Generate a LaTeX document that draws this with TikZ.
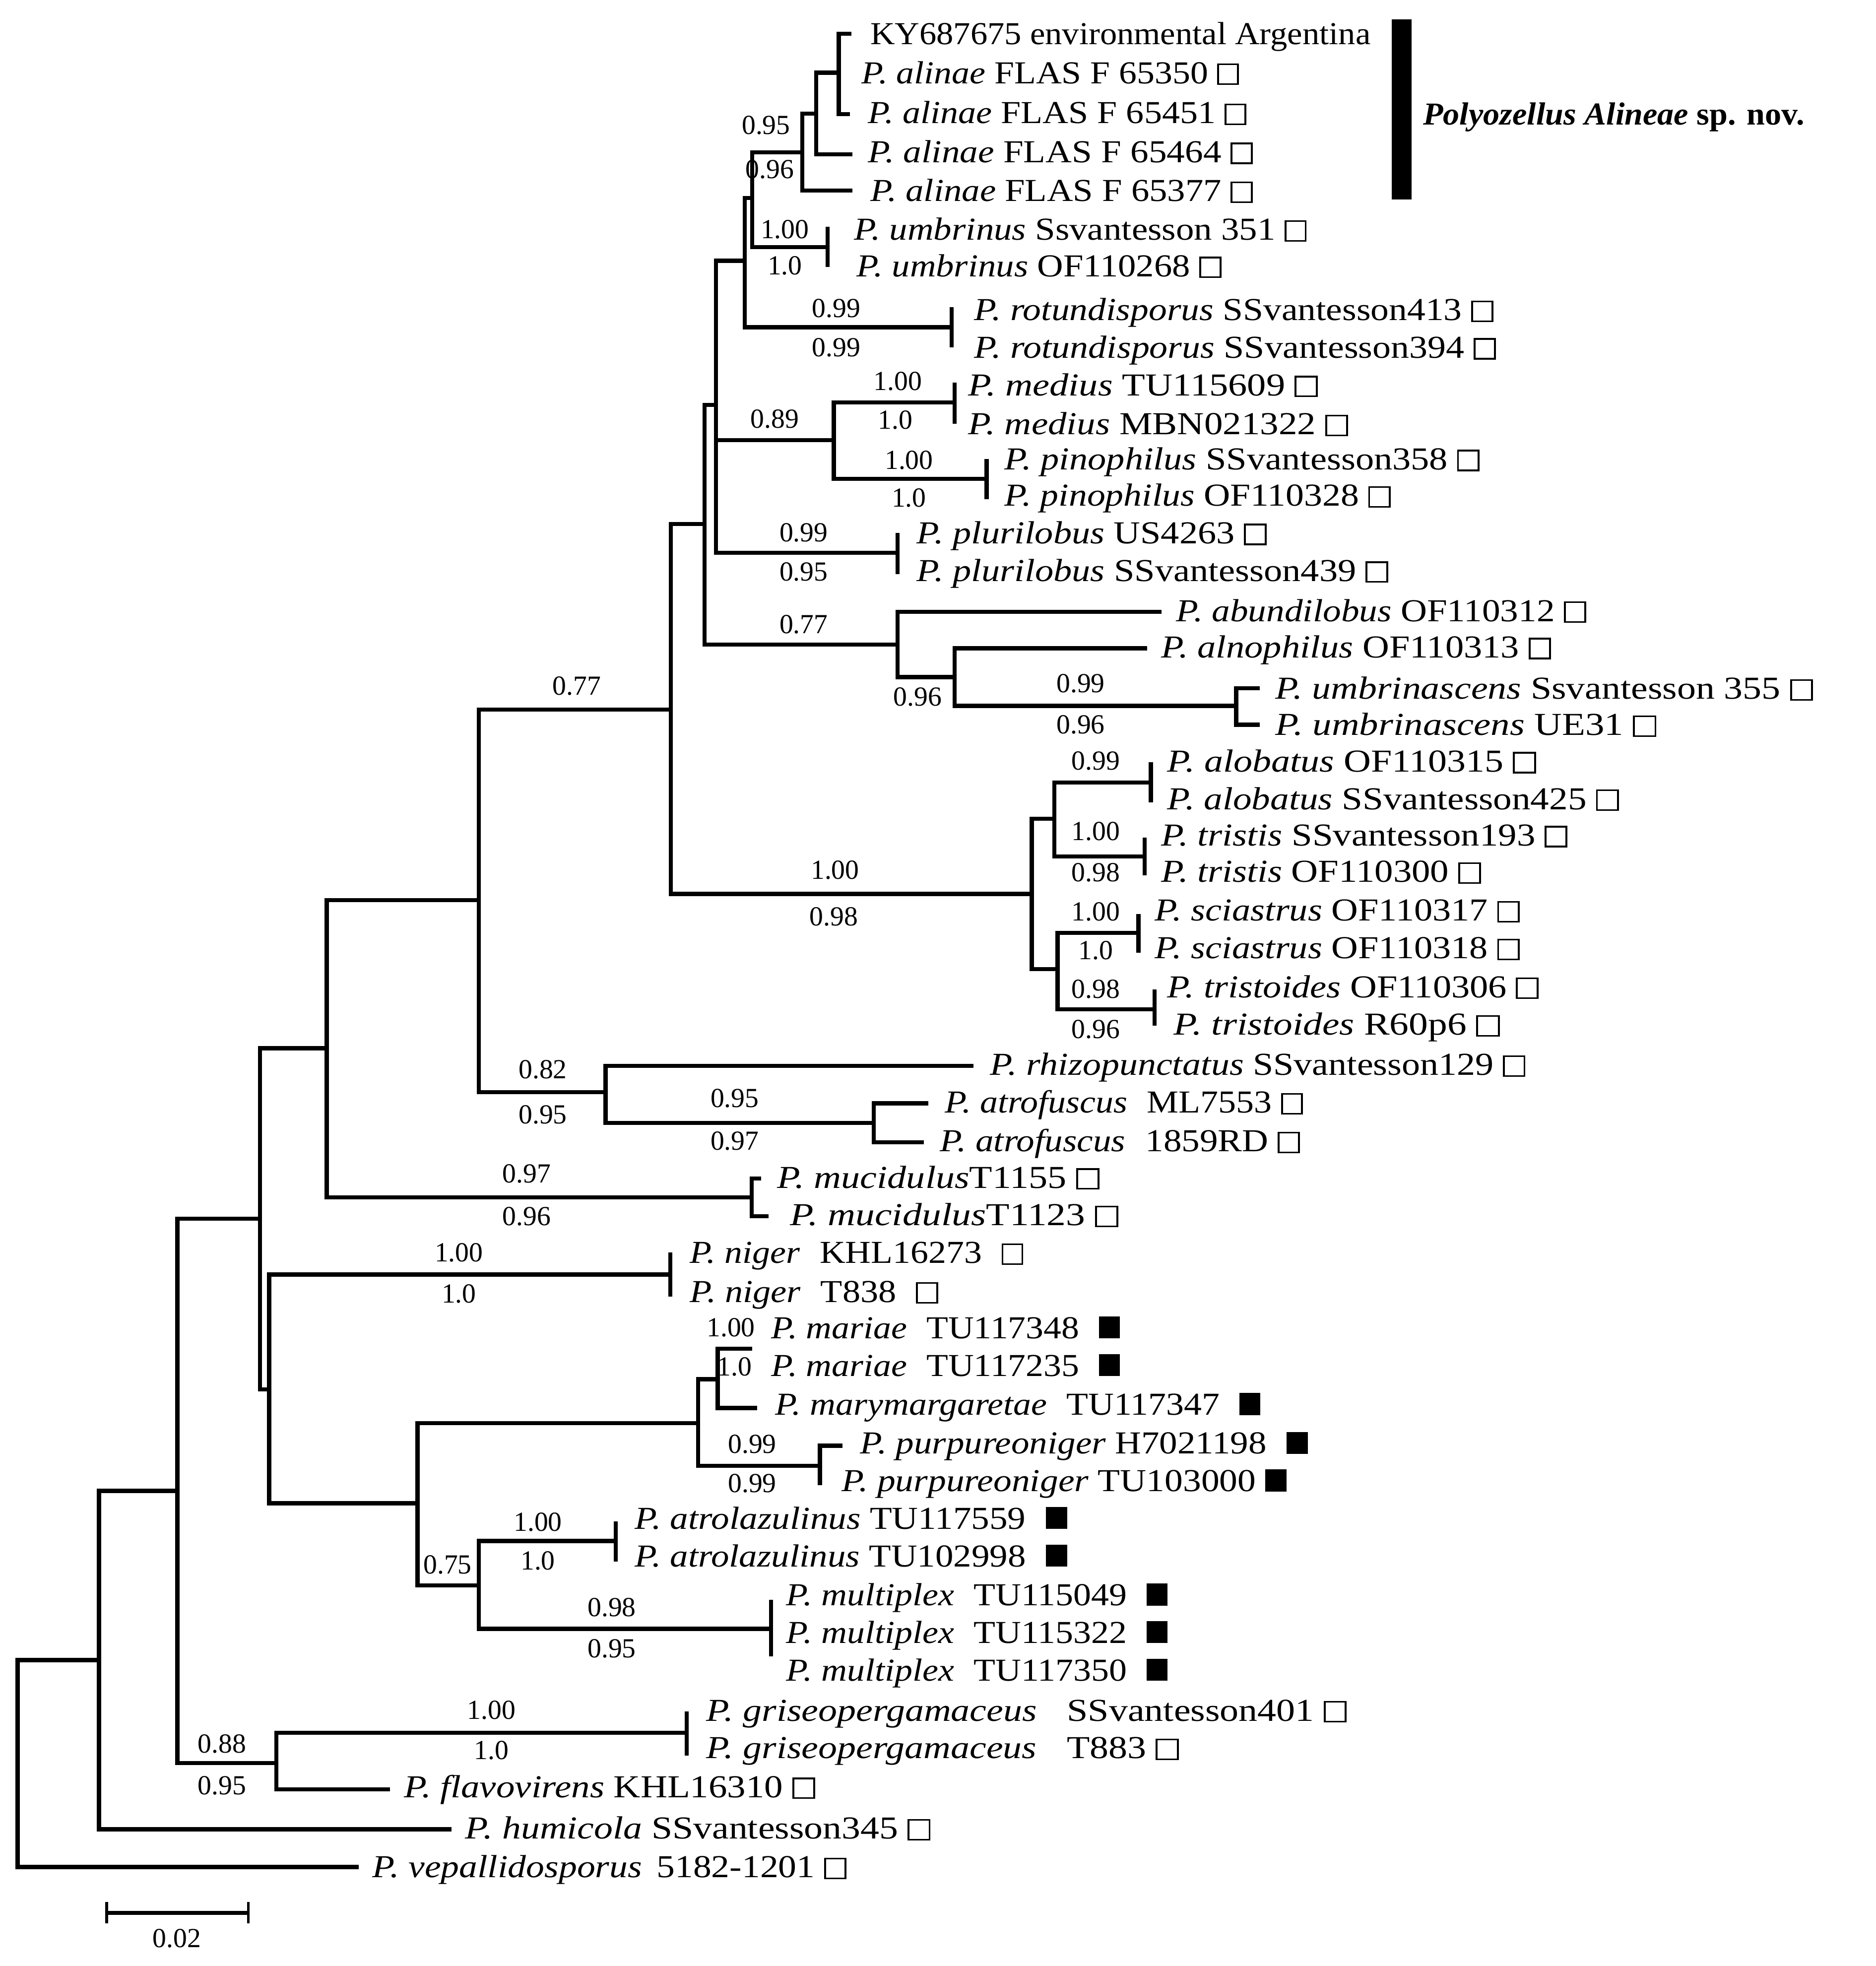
\documentclass[tikz,border=0pt]{standalone}
\usepackage{fontspec}
\setmainfont{Liberation Serif}
\usepackage{graphicx}
\newcommand\wbox{{\setlength{\fboxrule}{1.3pt}\setlength{\fboxsep}{0pt}\fbox{\rule{0pt}{14.5pt}\rule{13pt}{0pt}}}}
\newcommand\bbox{\rule{15pt}{17.5pt}}
\newcommand\gap{\hspace{0.55em}}
\newcommand\taxon[5]{\node[taxon] (#1) at (#2,#3+8.5) {\resizebox{#4pt}{\height}{#5}};}
\newcommand\bsv[4]{\node[bs] (#1) at (#2,#3) {#4};}
\begin{document}
\begin{tikzpicture}[x=1pt,y=-1pt,
  br/.style={line width=3.3pt},
  taxon/.style={anchor=base west, inner sep=0pt, font=\fontsize{25.5}{30}\selectfont},
  bs/.style={anchor=center, inner sep=0pt, font=\fontsize{22}{24}\selectfont}]
\fill[white] (0,0) rectangle (1496,1568);
\useasboundingbox (0,0) rectangle (1496,1568);
% ---------- internal nodes ----------
\coordinate (W) at (14,1406);
\coordinate (V) at (79,1324);
\coordinate (N) at (141.5,1189);
\coordinate (M) at (207.5,972);
\coordinate (U) at (220.5,1406);
\coordinate (Gr) at (547.7,1382);
\coordinate (L) at (260.6,836);
\coordinate (O) at (214.7,1108);
\coordinate (J) at (382,718);
\coordinate (Mu) at (599.5,955);
\coordinate (C) at (535,566);
\coordinate (K) at (483,871);
\coordinate (At) at (697,895.5);
\coordinate (A) at (562,418);
\coordinate (G) at (823,713);
\coordinate (B) at (571,323);
\coordinate (D) at (716,514);
\coordinate (X) at (594,208);
\coordinate (MP) at (665,351);
\coordinate (Pl) at (716,441);
\coordinate (Y) at (600,158);
\coordinate (Ro) at (759,261);
\coordinate (Z) at (640,121.5);
\coordinate (Um) at (660,197);
\coordinate (Z2) at (651,90.5);
\coordinate (Z3) at (669,58);
\coordinate (Me) at (761.5,321);
\coordinate (Pi) at (787,382);
\coordinate (E) at (761.5,540);
\coordinate (F) at (986,563);
\coordinate (H) at (841,653);
\coordinate (I) at (843.5,773);
\coordinate (Al) at (918,624);
\coordinate (Tr) at (913,683);
\coordinate (Sc) at (908,744);
\coordinate (To) at (921,805);
\coordinate (Ni) at (534.6,1016.5);
\coordinate (P) at (333,1199);
\coordinate (Q) at (556.7,1135);
\coordinate (T) at (382,1264.5);
\coordinate (R) at (572.5,1100);
\coordinate (S) at (654,1169);
\coordinate (Atl) at (491,1229);
\coordinate (Mx) at (615,1299);
% ---------- branch tips ----------
\coordinate (vep) at (286,1489);
\coordinate (hum) at (360,1459);
\coordinate (fla) at (311,1427);
\coordinate (gr1) at (547.7,1365);
\coordinate (gr2) at (547.7,1400);
\coordinate (mu1) at (607,940);
\coordinate (mu2) at (613,970);
\coordinate (rhi) at (776.6,850);
\coordinate (at1) at (740.6,880);
\coordinate (at2) at (737,911);
\coordinate (pl1) at (716,425);
\coordinate (pl2) at (716,458);
\coordinate (ro1) at (759,245);
\coordinate (ro2) at (759,277);
\coordinate (um1) at (660,181);
\coordinate (um2) at (660,213);
\coordinate (a77) at (680,152);
\coordinate (a64) at (680,123);
\coordinate (ky) at (679,27);
\coordinate (a51) at (678,91);
\coordinate (me1) at (761.5,305);
\coordinate (me2) at (761.5,338);
\coordinate (pi1) at (787,366);
\coordinate (pi2) at (787,398);
\coordinate (abu) at (926.5,488);
\coordinate (aln) at (915,517);
\coordinate (ub1) at (1005,549);
\coordinate (ub2) at (1005,578);
\coordinate (al1) at (918,608);
\coordinate (al2) at (918,640);
\coordinate (tr1) at (913,668);
\coordinate (tr2) at (913,698);
\coordinate (sc1) at (908,729);
\coordinate (sc2) at (908,760);
\coordinate (to1) at (921,789);
\coordinate (to2) at (921,818);
\coordinate (ni1) at (534.6,999);
\coordinate (ni2) at (534.6,1034);
\coordinate (mar) at (600,1075.7);
\coordinate (mym) at (604,1123);
\coordinate (pu1) at (672,1153);
\coordinate (pu2) at (654,1184.5);
\coordinate (atl1) at (491,1213.5);
\coordinate (atl2) at (491,1245.6);
\coordinate (mx1) at (615,1276);
\coordinate (mx2) at (615,1321);
% ---------- branches ----------
\draw[br] (W) |- (V);   \draw[br] (W) |- (vep);
\draw[br] (V) |- (N);   \draw[br] (V) |- (hum);
\draw[br] (N) |- (M);   \draw[br] (N) |- (U);
\draw[br] (U) |- (Gr);  \draw[br] (U) |- (fla);
\draw[br] (Gr) |- (gr1); \draw[br] (Gr) |- (gr2);
\draw[br] (M) |- (L);   \draw[br] (M) |- (O);
\draw[br] (L) |- (J);   \draw[br] (L) |- (Mu);
\draw[br] (Mu) |- (mu1); \draw[br] (Mu) |- (mu2);
\draw[br] (J) |- (C);   \draw[br] (J) |- (K);
\draw[br] (K) |- (rhi); \draw[br] (K) |- (At);
\draw[br] (At) |- (at1); \draw[br] (At) |- (at2);
\draw[br] (C) |- (A);   \draw[br] (C) |- (G);
\draw[br] (A) |- (B);   \draw[br] (A) |- (D);
\draw[br] (B) |- (X);   \draw[br] (B) |- (MP); \draw[br] (B) |- (Pl);
\draw[br] (X) |- (Y);   \draw[br] (X) |- (Ro);
\draw[br] (Y) |- (Z);   \draw[br] (Y) |- (Um);
\draw[br] (Z) |- (Z2);  \draw[br] (Z) |- (a77);
\draw[br] (Z2) |- (Z3); \draw[br] (Z2) |- (a64);
\draw[br] (Z3) |- (ky); \draw[br] (Z3) |- (a51);
\draw[br] (Um) |- (um1); \draw[br] (Um) |- (um2);
\draw[br] (Ro) |- (ro1); \draw[br] (Ro) |- (ro2);
\draw[br] (MP) |- (Me); \draw[br] (MP) |- (Pi);
\draw[br] (Me) |- (me1); \draw[br] (Me) |- (me2);
\draw[br] (Pi) |- (pi1); \draw[br] (Pi) |- (pi2);
\draw[br] (Pl) |- (pl1); \draw[br] (Pl) |- (pl2);
\draw[br] (D) |- (abu); \draw[br] (D) |- (E);
\draw[br] (E) |- (aln); \draw[br] (E) |- (F);
\draw[br] (F) |- (ub1); \draw[br] (F) |- (ub2);
\draw[br] (G) |- (H);   \draw[br] (G) |- (I);
\draw[br] (H) |- (Al);  \draw[br] (H) |- (Tr);
\draw[br] (Al) |- (al1); \draw[br] (Al) |- (al2);
\draw[br] (Tr) |- (tr1); \draw[br] (Tr) |- (tr2);
\draw[br] (I) |- (Sc);  \draw[br] (I) |- (To);
\draw[br] (Sc) |- (sc1); \draw[br] (Sc) |- (sc2);
\draw[br] (To) |- (to1); \draw[br] (To) |- (to2);
\draw[br] (O) |- (Ni);  \draw[br] (O) |- (P);
\draw[br] (Ni) |- (ni1); \draw[br] (Ni) |- (ni2);
\draw[br] (P) |- (Q);   \draw[br] (P) |- (T);
\draw[br] (Q) |- (R);   \draw[br] (Q) |- (S);
\draw[br] (R) |- (mar); \draw[br] (R) |- (mym);
\draw[br] (S) |- (pu1); \draw[br] (S) |- (pu2);
\draw[br] (T) |- (Atl); \draw[br] (T) |- (Mx);
\draw[br] (Atl) |- (atl1); \draw[br] (Atl) |- (atl2);
\draw[br] (Mx) |- (mx1); \draw[br] (Mx) |- (mx2);
% ---------- taxon labels ----------
\taxon{t1}{694}{27}{399}{KY687675 environmental Argentina}
\taxon{t2}{687}{58}{301}{\textit{P. alinae} FLAS F 65350 \wbox}
\taxon{t3}{692}{90}{302}{\textit{P. alinae} FLAS F 65451 \wbox}
\taxon{t4}{692}{121}{307}{\textit{P. alinae} FLAS F 65464 \wbox}
\taxon{t5}{694}{152}{305}{\textit{P. alinae} FLAS F 65377 \wbox}
\taxon{t6}{681}{183}{361}{\textit{P. umbrinus} Ssvantesson 351 \wbox}
\taxon{t7}{683}{212}{291}{\textit{P. umbrinus} OF110268 \wbox}
\taxon{t8}{777}{247}{414}{\textit{P. rotundisporus} SSvantesson413 \wbox}
\taxon{t9}{777}{277}{416}{\textit{P. rotundisporus} SSvantesson394 \wbox}
\taxon{t10}{772}{307}{279}{\textit{P. medius} TU115609 \wbox}
\taxon{t11}{772}{338}{303}{\textit{P. medius} MBN021322 \wbox}
\taxon{t12}{801}{366}{379}{\textit{P. pinophilus} SSvantesson358 \wbox}
\taxon{t13}{801}{395}{308}{\textit{P. pinophilus} OF110328 \wbox}
\taxon{t14}{731}{425}{279}{\textit{P. plurilobus} US4263 \wbox}
\taxon{t15}{731}{455}{376}{\textit{P. plurilobus} SSvantesson439 \wbox}
\taxon{t16}{938}{487}{327}{\textit{P. abundilobus} OF110312 \wbox}
\taxon{t17}{926}{516}{311}{\textit{P. alnophilus} OF110313 \wbox}
\taxon{t18}{1017}{549}{429}{\textit{P. umbrinascens} Ssvantesson 355 \wbox}
\taxon{t19}{1017}{578}{304}{\textit{P. umbrinascens} UE31 \wbox}
\taxon{t20}{931}{607}{294}{\textit{P. alobatus} OF110315 \wbox}
\taxon{t21}{931}{637}{360}{\textit{P. alobatus} SSvantesson425 \wbox}
\taxon{t22}{926}{666}{324}{\textit{P. tristis} SSvantesson193 \wbox}
\taxon{t23}{926}{695}{255}{\textit{P. tristis} OF110300 \wbox}
\taxon{t24}{921}{726}{291}{\textit{P. sciastrus} OF110317 \wbox}
\taxon{t25}{921}{756}{291}{\textit{P. sciastrus} OF110318 \wbox}
\taxon{t26}{931}{787}{296}{\textit{P. tristoides} OF110306 \wbox}
\taxon{t27}{936}{817}{260}{\textit{P. tristoides} R60p6 \wbox}
\taxon{t28}{789.5}{849}{427}{\textit{P. rhizopunctatus} SSvantesson129 \wbox}
\taxon{t29}{753.5}{879}{285.5}{\textit{P. atrofuscus}\gap ML7553 \wbox}
\taxon{t30}{749.5}{910}{287}{\textit{P. atrofuscus}\gap 1859RD \wbox}
\taxon{t31}{619.6}{939}{257}{\textit{P. mucidulus}T1155 \wbox}
\taxon{t32}{630}{969}{262}{\textit{P. mucidulus}T1123 \wbox}
\taxon{t33}{550}{999}{266}{\textit{P. niger}\gap KHL16273\gap\wbox}
\taxon{t34}{550}{1030}{198}{\textit{P. niger}\gap T838\gap\wbox}
\taxon{t35}{615}{1059}{278}{\textit{P. mariae}\gap TU117348\gap\bbox}
\taxon{t36}{615}{1089}{278}{\textit{P. mariae}\gap TU117235\gap\bbox}
\taxon{t37}{618}{1120}{387}{\textit{P. marymargaretae}\gap TU117347\gap\bbox}
\taxon{t38}{686}{1151}{357}{\textit{P. purpureoniger} H7021198\gap\bbox}
\taxon{t39}{671}{1181}{355}{\textit{P. purpureoniger} TU103000 \bbox}
\taxon{t40}{506}{1211}{345}{\textit{P. atrolazulinus} TU117559\gap\bbox}
\taxon{t41}{506}{1241}{345}{\textit{P. atrolazulinus} TU102998\gap\bbox}
\taxon{t42}{627}{1272}{304}{\textit{P. multiplex}\gap TU115049\gap\bbox}
\taxon{t43}{627}{1302}{304}{\textit{P. multiplex}\gap TU115322\gap\bbox}
\taxon{t44}{627}{1332}{304}{\textit{P. multiplex}\gap TU117350\gap\bbox}
\taxon{t45}{563}{1364}{511}{\textit{P. griseopergamaceus}\hspace{0.8em}SSvantesson401 \wbox}
\taxon{t46}{563}{1394}{377}{\textit{P. griseopergamaceus}\hspace{0.8em}T883 \wbox}
\taxon{t47}{322}{1425}{328}{\textit{P. flavovirens} KHL16310 \wbox}
\taxon{t48}{371}{1458}{371}{\textit{P. humicola} SSvantesson345 \wbox}
\taxon{t49}{297}{1489}{378}{\textit{P. vepallidosporus}\hspace{0.4em}5182-1201 \wbox}
% ---------- clade bar ----------
\fill (1110,15.5) rectangle (1126,159);
\node[taxon, font=\fontsize{25.5}{30}\selectfont\bfseries] (clade) at (1135,99.5)
  {\resizebox{304pt}{\height}{\textit{Polyozellus Alineae} sp. nov.}};
% ---------- support values ----------
\bsv{s1}{611}{100}{0.95}
\bsv{s2}{614}{135}{0.96}
\bsv{s3}{626}{183}{1.00}
\bsv{s4}{626}{212}{1.0}
\bsv{s5}{667}{246}{0.99}
\bsv{s6}{667}{277}{0.99}
\bsv{s7}{716}{304}{1.00}
\bsv{s8}{714}{335}{1.0}
\bsv{s9}{618}{334}{0.89}
\bsv{s10}{725}{367}{1.00}
\bsv{s11}{725}{397}{1.0}
\bsv{s12}{641}{425}{0.99}
\bsv{s13}{641}{456}{0.95}
\bsv{s14}{641}{498}{0.77}
\bsv{s15}{732}{556}{0.96}
\bsv{s16}{862}{545}{0.99}
\bsv{s17}{862}{578}{0.96}
\bsv{s18}{460}{547}{0.77}
\bsv{s19}{666}{694}{1.00}
\bsv{s20}{665}{731}{0.98}
\bsv{s21}{874}{607}{0.99}
\bsv{s22}{874}{663}{1.00}
\bsv{s23}{874}{696}{0.98}
\bsv{s24}{874}{727}{1.00}
\bsv{s25}{874}{758}{1.0}
\bsv{s26}{874}{789}{0.98}
\bsv{s27}{874}{821}{0.96}
\bsv{s28}{433}{853}{0.82}
\bsv{s29}{433}{889}{0.95}
\bsv{s30}{586}{876}{0.95}
\bsv{s31}{586}{910}{0.97}
\bsv{s32}{420}{936}{0.97}
\bsv{s33}{420}{970}{0.96}
\bsv{s34}{366}{999}{1.00}
\bsv{s35}{366}{1032}{1.0}
\bsv{s36}{583}{1059}{1.00}
\bsv{s37}{586}{1090}{1.0}
\bsv{s38}{600}{1152}{0.99}
\bsv{s39}{600}{1183}{0.99}
\bsv{s40}{429}{1214}{1.00}
\bsv{s41}{429}{1245}{1.0}
\bsv{s42}{357}{1248}{0.75}
\bsv{s43}{488}{1282}{0.98}
\bsv{s44}{488}{1315}{0.95}
\bsv{s45}{392}{1364}{1.00}
\bsv{s46}{392}{1396}{1.0}
\bsv{s47}{177}{1391}{0.88}
\bsv{s48}{177}{1424}{0.95}
% ---------- scale bar ----------
\coordinate (sb1) at (85,1525.6);
\coordinate (sb2) at (198,1525.6);
\draw[br] (sb1) -- (sb2);
\draw[line width=2.2pt] (sb1) ++(0,-8.5) -- ++(0,17);
\draw[line width=2.2pt] (sb2) ++(0,-8.5) -- ++(0,17);
\bsv{sbl}{141}{1546}{0.02}
\end{tikzpicture}
\end{document}
